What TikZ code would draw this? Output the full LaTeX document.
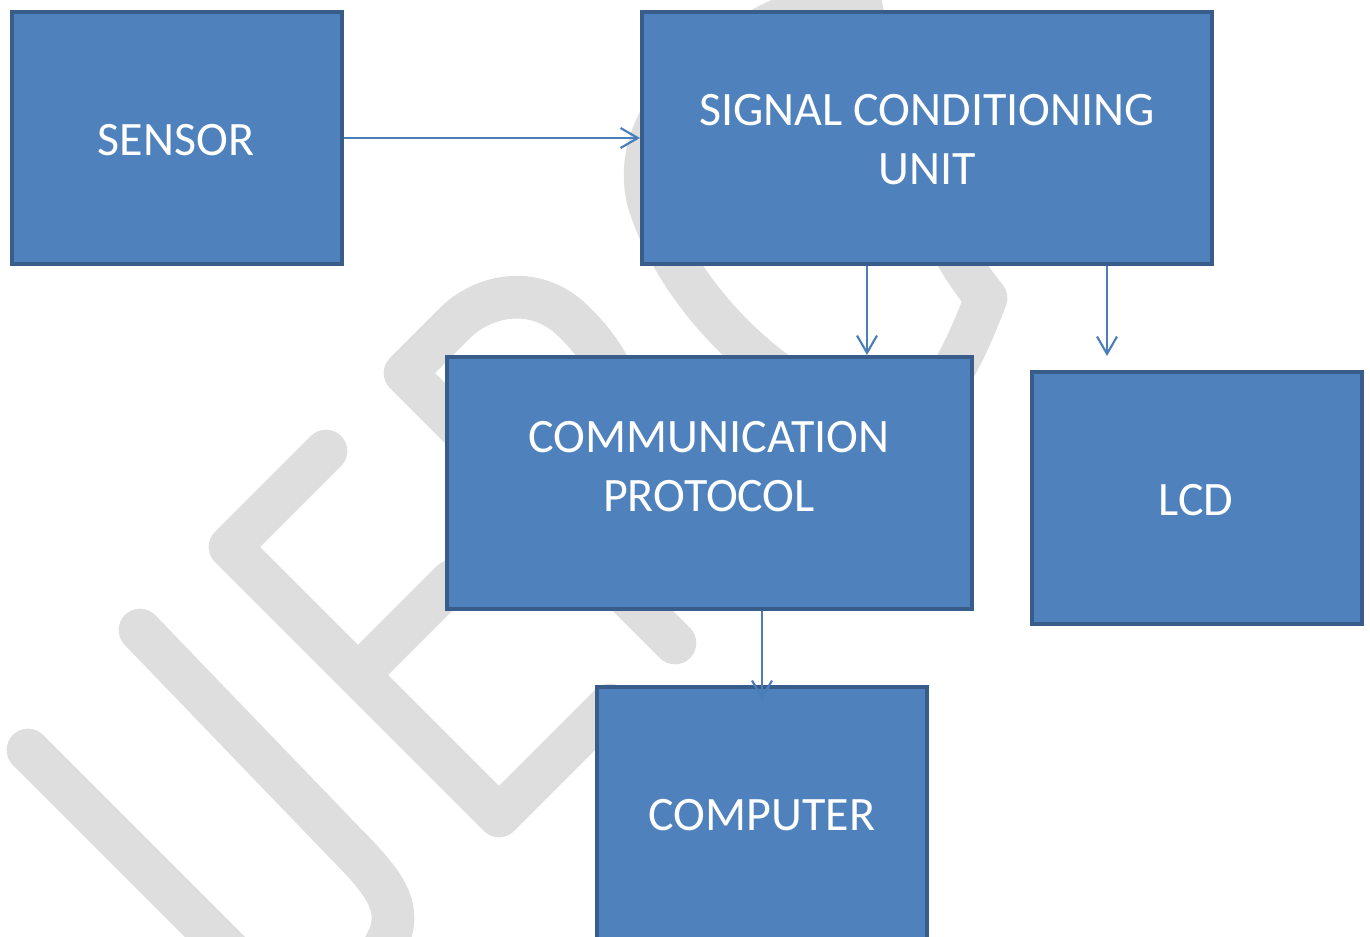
\documentclass[tikz,border=0pt]{standalone}
\usepackage{fontspec}
\setmainfont{Carlito}
\usetikzlibrary{arrows.meta}
\definecolor{boxfill}{HTML}{4F81BD}
\definecolor{boxline}{HTML}{385D8A}
\definecolor{wire}{HTML}{4A7EBB}
\definecolor{wmark}{HTML}{DEDEDE}

\begin{document}
\begin{tikzpicture}[x=0.75pt,y=-0.75pt,
  block/.style={rectangle, draw=boxline, fill=boxfill, line width=3pt, inner sep=0pt,
                minimum height=189pt},
  narrowblock/.style={block, minimum width=247.5pt},
  caption/.style={text=white, font=\fontsize{36}{44.25}\selectfont, align=center, inner sep=0pt},
  flow/.style={draw=wire, line width=1.6pt, -{Straight Barb[length=13pt,width=15pt]}},
  wm/.style={draw=wmark, line width=32pt, line cap=round, line join=round}]

\useasboundingbox (0,0) rectangle (1370,936);
\clip (0,0) rectangle (1370,936);

% light grey lettering in the background
\draw[wm] (28,750) -- (250,972);
\draw[wm] (140,630) -- (345,843) .. controls (385,883) and (400,905) .. (390,935) -- (375,965);
\draw[wm] (326,451) -- (230,547) -- (499,816) -- (610,705);
\draw[wm] (372,661) -- (452,581);
\draw[wm] (675,643) -- (405,373) -- (455,323) .. controls (482,296) and (532,284) .. (570,318)
      .. controls (605,350) and (640,405) .. (615,455) .. controls (600,485) and (580,510) .. (560,528);
\draw[wm] (858,-8) .. controls (745,20) and (625,100) .. (648,200)
      .. controls (675,290) and (760,380) .. (860,420)
      .. controls (920,440) and (955,380) .. (986,298)
      .. controls (930,230) and (880,100) .. (858,-8) -- cycle;

% blocks
\node[narrowblock] (sensor) at (177,138) {};
\node[block, minimum width=427.5pt] (scu) at (927,138) {};
\node[block, minimum width=393.75pt] (cp) at (709.5,483) {};
\node[narrowblock] (lcd) at (1197,498) {};
\node[narrowblock] (comp) at (762,813) {};

% captions
\node[caption] (sensorT) at (176,140.5) {SENSOR};
\node[caption] (scuT) at (927,139.5) {SIGNAL CONDITIONING\\UNIT};
\node[caption] (cpT) at (709,466.5) {COMMUNICATION\\PROTOCOL};
\node[caption] (lcdT) at (1196,500) {LCD};
\node[caption] (compT) at (762,815) {COMPUTER};

% connectors
\coordinate (tapA) at (867,0);
\coordinate (tapB) at (1107,0);
\coordinate (tapC) at (762,0);
\coordinate (lcdin) at (1107,356);
\coordinate (compin) at (762,700);

\draw[flow] (sensor.east) -- (scu.west);
\draw[flow] (scu.south -| tapA) -- (cp.north -| tapA);
\draw[flow] (scu.south -| tapB) -- (lcdin);
\draw[flow] (cp.south -| tapC) -- (compin);
\end{tikzpicture}
\end{document}
